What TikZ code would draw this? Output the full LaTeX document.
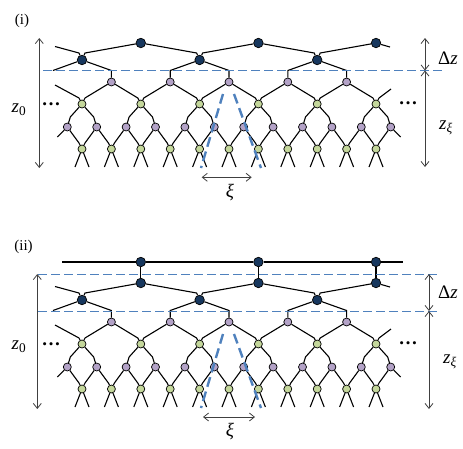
\documentclass[tikz,border=0pt]{standalone}
\usepackage{fontspec}
\setmainfont{Liberation Serif}
\usetikzlibrary{arrows.meta,calc}

\definecolor{navyn}{HTML}{17375E}
\definecolor{lilac}{HTML}{B3A2C7}
\definecolor{sage}{HTML}{C4D79B}
\definecolor{cutblue}{HTML}{4F81BD}
\definecolor{arrgray}{HTML}{404040}

\begin{document}
\begin{tikzpicture}[x=1pt, y=-1pt,
    dk/.style={circle, draw=black, fill=navyn, minimum size=9.5pt, inner sep=0pt, line width=0.7pt},
    pu/.style={circle, draw=black, fill=lilac, minimum size=8pt, inner sep=0pt, line width=0.7pt},
    gr/.style={circle, draw=black, fill=sage, minimum size=8pt, inner sep=0pt, line width=0.7pt},
    leg/.style={line width=1.1pt, black},
    cut/.style={cutblue, line width=0.9pt, dash pattern=on 9pt off 4pt},
    cone/.style={cutblue, line width=2.4pt, dash pattern=on 10pt off 5pt},
    span/.style={arrgray, line width=0.8pt, {Straight Barb[length=5pt,width=8pt]}-{Straight Barb[length=5pt,width=8pt]}},
    lbl/.style={font=\fontsize{19}{21}\selectfont, inner sep=0pt},
    tag/.style={font=\fontsize{15}{17}\selectfont, inner sep=0pt}
]
\useasboundingbox (0,0) rectangle (463,448);

% --- BOTH PANELS: the same tree, panel (ii) sits 240 lower ---
\foreach \p/\oy in {i/0, ii/240} {
  % rows of nodes
  \foreach \i in {0,...,10}
    \node[gr] (g0-\p-\i) at (82+29.4*\i, 149+\oy) {};
  \foreach \j in {0,...,11}
    \node[pu] (p1-\p-\j) at (67.3+29.4*\j, 127+\oy) {};
  \foreach \k in {0,...,5}
    \node[gr] (g2-\p-\k) at (82+58.8*\k, 104+\oy) {};
  \foreach \m in {0,...,4}
    \node[pu] (p3-\p-\m) at (111.4+58.8*\m, 82+\oy) {};
  \foreach \n in {0,1,2} {
    \node[dk] (d4-\p-\n) at (82+117.6*\n, 60+\oy) {};
    \node[dk] (d5-\p-\n) at (140.8+117.6*\n, 43+\oy) {};
  }

  % open legs at the bottom
  \foreach \i in {0,...,10} {
    \draw[leg] (g0-\p-\i) -- ++(-7,18);
    \draw[leg] (g0-\p-\i) -- ++(7,18);
  }
  % bottom row up to first purple row
  \foreach \i [evaluate=\i as \j using int(\i+1)] in {0,...,10} {
    \draw[leg] (g0-\p-\i) -- ++(-3,-6) -- (p1-\p-\i);
    \draw[leg] (g0-\p-\i) -- ++(3,-6) -- (p1-\p-\j);
  }
  \draw[leg] (p1-\p-0) -- ++(-10,10);
  \draw[leg] (p1-\p-11) -- ++(10,10);
  % purple pairs up to green
  \foreach \k [evaluate=\k as \a using int(2*\k), evaluate=\k as \b using int(2*\k+1)] in {0,...,5} {
    \draw[leg] (g2-\p-\k) -- ($(p1-\p-\a)+(3,-10)$) -- (p1-\p-\a);
    \draw[leg] (g2-\p-\k) -- ($(p1-\p-\b)+(-3,-10)$) -- (p1-\p-\b);
  }
  % green up to second purple row
  \foreach \m [evaluate=\m as \r using int(\m+1)] in {0,...,4} {
    \draw[leg] (g2-\p-\m) -- ++(3,-6) -- (p3-\p-\m);
    \draw[leg] (g2-\p-\r) -- ++(-3,-6) -- (p3-\p-\m);
  }
  \draw[leg] (g2-\p-0) -- ++(-3,-6) -- ++(-24,-13);
  \draw[leg] (g2-\p-5) -- ++(3,-6) -- ++(12,-9);
  % second purple row up to dark row
  \foreach \n [evaluate=\n as \a using int(2*\n)] in {0,1,2}
    \draw[leg] (d4-\p-\n) -- ($(p3-\p-\a)+(0,-11.5)$) -- (p3-\p-\a);
  \foreach \n/\b in {1/1, 2/3}
    \draw[leg] (d4-\p-\n) -- ($(p3-\p-\b)+(0,-11.5)$) -- (p3-\p-\b);
  \draw[leg] (d4-\p-0) -- ++(-29,10.5);
  % dark row up to top dark row
  \foreach \n in {0,1,2}
    \draw[leg] (d4-\p-\n) -- ++(3,-7) -- (d5-\p-\n);
  \foreach \n/\l in {0/1, 1/2}
    \draw[leg] (d4-\p-\l) -- ++(-3,-7) -- (d5-\p-\n);
  \draw[leg] (d4-\p-0) -- ++(-3,-7) -- ++(-24,-6.5);
  \draw[leg] (d5-\p-2) -- ++(14,4);

  % light cone
  \coordinate (conetl-\p) at (223,94+\oy);
  \coordinate (conebl-\p) at (201,168+\oy);
  \coordinate (conetr-\p) at (234,94+\oy);
  \coordinate (conebr-\p) at (261,168+\oy);
  \draw[cone] (conetl-\p) -- (conebl-\p);
  \draw[cone] (conetr-\p) -- (conebr-\p);

  % dots
  \node[lbl] (dotsl-\p) at (51,104+\oy) {\textbf{…}};
  \node[lbl] (dotsr-\p) at (408,103+\oy) {\textbf{…}};
}

% --- PANEL (i) ---
\node[tag] (tag-i) at (22,21) {(i)};
\coordinate (cutl-i) at (43,70.5);
\coordinate (cutr-i) at (442,70.5);
\draw[cut] (cutl-i) -- (cutr-i);

\coordinate (ztop-i) at (39.3,38);
\coordinate (zbot-i) at (39.3,168);
\coordinate (rtop-i) at (425,38);
\coordinate (rmid-i) at (425,70.5);
\coordinate (rbot-i) at (425,167);
\coordinate (xil-i) at (201.7,177.3);
\coordinate (xir-i) at (251.7,177.3);
\draw[span] (ztop-i) -- (zbot-i);
\draw[span] (rtop-i) -- (rmid-i);
\draw[span] (rmid-i) -- (rbot-i);
\draw[span] (xil-i) -- (xir-i);

\node[lbl] (zo-i) at (19,110) {\textit{z}\textsubscript{0}};
\node[lbl] (dz-i) at (448,58) {Δ\textit{z}};
\node[lbl] (zxi-i) at (446,128) {\textit{z}\textsubscript{\textit{ξ}}};
\node[lbl] (xi-i) at (230,193) {\textit{ξ}};

% --- PANEL (ii) ---
\node[tag] (tag-ii) at (23.5,247) {(ii)};
\foreach \n in {0,1,2} {
  \node[dk] (d6-\n) at (140.8+117.6*\n, 262) {};
  \draw[leg] (d6-\n) -- (d5-ii-\n);
}
\coordinate (topl) at (62,262);
\coordinate (topr) at (403,262);
\draw[leg] (topl) -- (d6-0) -- (d6-1) -- (d6-2) -- (topr);

\coordinate (cutal-ii) at (38,274);
\coordinate (cutar-ii) at (438,274);
\coordinate (cutbl-ii) at (38,311);
\coordinate (cutbr-ii) at (438,311);
\draw[cut] (cutal-ii) -- (cutar-ii);
\draw[cut] (cutbl-ii) -- (cutbr-ii);

\coordinate (ztop-ii) at (37.3,274);
\coordinate (zbot-ii) at (37.3,409);
\coordinate (rtop-ii) at (429,274);
\coordinate (rmid-ii) at (429,311);
\coordinate (rbot-ii) at (429,409);
\coordinate (xil-ii) at (203,417);
\coordinate (xir-ii) at (255,417);
\draw[span] (ztop-ii) -- (zbot-ii);
\draw[span] (rtop-ii) -- (rmid-ii);
\draw[span] (rmid-ii) -- (rbot-ii);
\draw[span] (xil-ii) -- (xir-ii);

\node[lbl] (zo-ii) at (19,347) {\textit{z}\textsubscript{0}};
\node[lbl] (dz-ii) at (448,292) {Δ\textit{z}};
\node[lbl] (zxi-ii) at (450,362) {\textit{z}\textsubscript{\textit{ξ}}};
\node[lbl] (xi-ii) at (230,432) {\textit{ξ}};

\end{tikzpicture}
\end{document}
